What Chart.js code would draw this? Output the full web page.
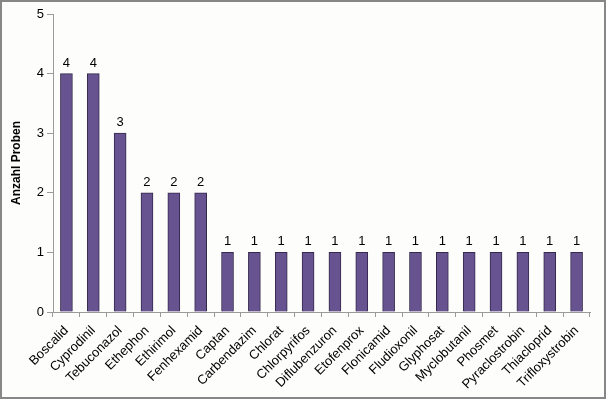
<!DOCTYPE html>
<html>
<head>
<meta charset="utf-8">
<script src="https://cdn.jsdelivr.net/npm/chart.js@4.4.0/dist/chart.umd.min.js"></script>
<style>
  html, body { margin: 0; padding: 0; background: #fff; }
  #wrap {
    width: 606px; height: 399px; box-sizing: border-box;
    border: 2px solid #878787; background: #fdfdfb;
  }
</style>
</head>
<body>
<div id="wrap"><canvas id="chart" width="602" height="395"></canvas></div>
<script>
// data
const categories = ["Boscalid", "Cyprodinil", "Tebuconazol", "Ethephon", "Ethirimol", "Fenhexamid",
    "Captan", "Carbendazim", "Chlorat", "Chlorpyrifos", "Diflubenzuron", "Etofenprox",
    "Flonicamid", "Fludioxonil", "Glyphosat", "Myclobutanil", "Phosmet", "Pyraclostrobin",
    "Thiacloprid", "Trifloxystrobin"];
const counts = [4, 4, 3, 2, 2, 2, 1, 1, 1, 1, 1, 1, 1, 1, 1, 1, 1, 1, 1, 1];
const yTicks = [0, 1, 2, 3, 4, 5];

const axisColor = "#9a9a9a";
const fontName = "'Liberation Sans', Arial, sans-serif";

// value labels above bars
const valueLabels = {
    id: "valueLabels",
    afterDatasetsDraw(chart) {
        const c = chart.ctx;
        const meta = chart.getDatasetMeta(0);
        c.save();
        c.font = "13px " + fontName;
        c.fillStyle = "#000";
        c.textAlign = "center";
        c.textBaseline = "bottom";
        meta.data.forEach((bar, i) => {
            c.fillText(counts[i], bar.x, bar.y - 4);
        });
        c.restore();
    }
};

const ctx = document.getElementById("chart").getContext("2d");
new Chart(ctx, {
    type: "bar",
    data: {
        labels: categories,
        datasets: [{
            data: counts,
            backgroundColor: "#66538f",
            borderColor: "#35294d",
            borderWidth: 1,
            barThickness: 12,
        }]
    },
    options: {
        responsive: false,
        animation: false,
        layout: { padding: { left: 0, right: 14, top: 12, bottom: 0 } },
        plugins: {
            legend: { display: false },
            tooltip: { enabled: false },
        },
        scales: {
            x: {
                offset: true,
                grid: {
                    offset: true,
                    drawOnChartArea: false,
                    color: axisColor,
                    tickLength: 5,
                },
                border: { color: axisColor },
                ticks: {
                    autoSkip: false,
                    minRotation: 45,
                    maxRotation: 45,
                    color: "#000",
                    padding: 6,
                    font: { family: fontName, size: 13 },
                },
                afterFit: (s) => { s.height = 85; },
            },
            y: {
                min: 0,
                max: 5,
                afterBuildTicks: (s) => { s.ticks = yTicks.map(v => ({ value: v })); },
                grid: {
                    drawOnChartArea: false,
                    color: axisColor,
                    tickLength: 6,
                },
                border: { color: axisColor },
                ticks: {
                    color: "#000",
                    padding: 3,
                    font: { family: fontName, size: 13 },
                },
                title: {
                    display: true,
                    text: "Anzahl Proben",
                    color: "#000",
                    padding: { top: 7, bottom: 0 },
                    font: { family: fontName, size: 12, weight: "bold" },
                },
                afterFit: (s) => { s.width = 51; },
            }
        }
    },
    plugins: [valueLabels]
});
</script>
</body>
</html>
